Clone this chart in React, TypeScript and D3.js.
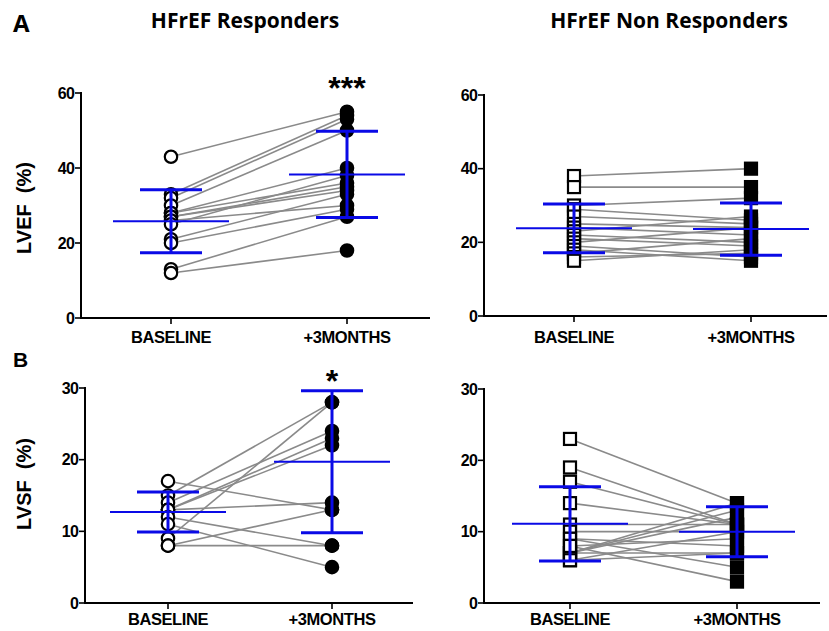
import React from 'react';
import * as d3 from 'd3';

// categories
const groups = ['BASELINE', '+3MONTHS'];

// LVEF responders (paired baseline -> +3 months)
const lvefRespBase = [43, 33, 32, 30, 28, 28, 27, 27, 26, 25, 21, 20, 13, 12];
const lvefRespM3 = [55, 54, 53, 50, 40, 36, 35, 34, 30, 38, 33, 29, 27, 18];
const lvefRespMean = [25.8, 38.3];
const lvefRespSd = [8.4, 11.5];

// LVEF non responders
const lvefNonBase = [38, 35, 30, 29, 27, 25, 24, 23, 22, 21, 20, 19, 18, 17, 16, 15];
const lvefNonM3 = [40, 35, 32, 26, 25, 24, 22, 27, 20, 19, 24, 16, 15, 21, 17, 18];
const lvefNonMean = [23.8, 23.6];
const lvefNonSd = [6.6, 7.1];

// LVSF responders
const lvsfRespBase = [17, 15, 14, 13, 13, 9, 13, 12, 11, 8, 8];
const lvsfRespM3 = [13, 28, 24, 23, 22, 28, 14, 8, 5, 13, 8];
const lvsfRespMean = [12.7, 19.7];
const lvsfRespSd = [2.8, 9.9];

// LVSF non responders
const lvsfNonBase = [23, 19, 17, 14, 11, 10, 9, 9, 8, 7, 7, 7, 6, 7, 8, 6];
const lvsfNonM3 = [14, 11, 11, 11, 11, 10, 5, 8, 3, 13, 14, 12, 10, 7, 9, 7];
const lvsfNonMean = [11.1, 10.0];
const lvsfNonSd = [5.2, 3.5];

const lvefTicks = [0, 20, 40, 60];
const lvsfTicks = [0, 10, 20, 30];

const BLUE = '#0a0ae6';
const GRAY = '#8a8a8a';
const AXIS_FONT = 'Liberation Sans, Arial, sans-serif';

type PanelProps = {
    x0: number; yTop: number; yBottom: number; xEnd: number;
    xs: [number, number];
    max: number; ticks: number[];
    base: number[]; m3: number[];
    mean: number[]; sd: number[];
    marker: 'circle' | 'square';
    labelOffset: number;
    star?: string; starY?: number;
};

const Marker = ({ shape, cx, cy, filled }: { shape: string; cx: number; cy: number; filled: boolean }) => {
    const fill = filled ? '#000' : '#fff';
    if (shape === 'circle') {
        return <circle cx={cx} cy={cy} r={6.2} fill={fill} stroke="#000" strokeWidth={2.2} />;
    }
    return <rect x={cx - 6} y={cy - 6} width={12} height={12} fill={fill} stroke="#000" strokeWidth={2.2} />;
};

const Panel = (p: PanelProps) => {
    const y = d3.scaleLinear().domain([0, p.max]).range([p.yBottom, p.yTop]);
    const x = d3.scalePoint().domain(groups).range(p.xs).padding(0);
    const line = d3.line<[string, number]>().x(d => x(d[0]) as number).y(d => y(d[1]));
    const meanHalf = 58;
    const capHalf = 31;

    return (
        <g>
            {/* paired lines */}
            {p.base.map((b, i) => (
                <path key={'l' + i} d={line([[groups[0], b], [groups[1], p.m3[i]]]) as string}
                    fill="none" stroke={GRAY} strokeWidth={1.6} />
            ))}
            {/* markers */}
            {p.base.map((b, i) => (
                <Marker key={'b' + i} shape={p.marker} cx={x(groups[0]) as number} cy={y(b)} filled={false} />
            ))}
            {p.m3.map((v, i) => (
                <Marker key={'m' + i} shape={p.marker} cx={x(groups[1]) as number} cy={y(v)} filled={true} />
            ))}
            {/* mean +/- SD */}
            {groups.map((g, i) => {
                const cx = x(g) as number;
                const hi = y(p.mean[i] + p.sd[i]);
                const lo = y(p.mean[i] - p.sd[i]);
                return (
                    <g key={'e' + g} stroke={BLUE}>
                        <line x1={cx - meanHalf} x2={cx + meanHalf} y1={y(p.mean[i])} y2={y(p.mean[i])} strokeWidth={2} />
                        <line x1={cx} x2={cx} y1={hi} y2={lo} strokeWidth={3} />
                        <line x1={cx - capHalf} x2={cx + capHalf} y1={hi} y2={hi} strokeWidth={3} />
                        <line x1={cx - capHalf} x2={cx + capHalf} y1={lo} y2={lo} strokeWidth={3} />
                    </g>
                );
            })}
            {/* axes */}
            <line x1={p.x0} x2={p.x0} y1={p.yTop - 1} y2={p.yBottom + 1} stroke="#000" strokeWidth={2} />
            <line x1={p.x0 - 1} x2={p.xEnd} y1={p.yBottom} y2={p.yBottom} stroke="#000" strokeWidth={2.2} />
            {p.ticks.map(t => (
                <g key={'t' + t}>
                    <line x1={p.x0 - 6} x2={p.x0} y1={y(t)} y2={y(t)} stroke="#000" strokeWidth={1.6} />
                    <text x={p.x0 - 7} y={y(t)} dy="0.36em" textAnchor="end" fontFamily={AXIS_FONT}
                        fontWeight="bold" fontSize={16} letterSpacing={-0.8}>{t}</text>
                </g>
            ))}
            {groups.map(g => (
                <g key={'x' + g}>
                    <line x1={x(g) as number} x2={x(g) as number} y1={p.yBottom} y2={p.yBottom + 6} stroke="#000" strokeWidth={1.6} />
                    <text x={x(g) as number} y={p.yBottom + p.labelOffset} textAnchor="middle" fontFamily={AXIS_FONT}
                        fontWeight="bold" fontSize={16.5} letterSpacing={-0.4}>{g}</text>
                </g>
            ))}
            {p.star && (
                <text x={p.xs[1]} y={p.starY} textAnchor="middle" fontFamily={AXIS_FONT}
                    fontWeight="bold" fontSize={32}>{p.star}</text>
            )}
        </g>
    );
};

export default function App() {
    const titleFont = '"Open Sans", sans-serif';
    return (
        <svg width={829} height={631} style={{ position: 'absolute', left: 0, top: 0, background: '#fff' }}>
            <rect width={829} height={631} fill="#fff" />
            <text x={13} y={32} fontFamily={titleFont} fontWeight={700} fontSize={24}>A</text>
            <text x={245} y={28} textAnchor="middle" fontFamily={titleFont} fontWeight={700} fontSize={21}>HFrEF Responders</text>
            <text x={669} y={28} textAnchor="middle" fontFamily={titleFont} fontWeight={700} fontSize={21}>HFrEF Non Responders</text>
            <text x={13} y={367} fontFamily={AXIS_FONT} fontWeight="bold" fontSize={21}>B</text>

            <text transform="translate(31,208) rotate(-90)" textAnchor="middle" fontFamily={AXIS_FONT}
                fontWeight="bold" fontSize={20} xmlSpace="preserve">LVEF  (%)</text>
            <text transform="translate(31,484) rotate(-90)" textAnchor="middle" fontFamily={AXIS_FONT}
                fontWeight="bold" fontSize={20} xmlSpace="preserve">LVSF  (%)</text>

            <Panel x0={81} yTop={93} yBottom={318} xEnd={430} xs={[171, 347]} max={60} ticks={lvefTicks}
                base={lvefRespBase} m3={lvefRespM3} mean={lvefRespMean} sd={lvefRespSd}
                marker="circle" labelOffset={25} star="***" starY={99} />
            <Panel x0={484} yTop={95} yBottom={316} xEnd={827} xs={[574, 751]} max={60} ticks={lvefTicks}
                base={lvefNonBase} m3={lvefNonM3} mean={lvefNonMean} sd={lvefNonSd}
                marker="square" labelOffset={27} />
            <Panel x0={85} yTop={388} yBottom={603} xEnd={413} xs={[168, 332]} max={30} ticks={lvsfTicks}
                base={lvsfRespBase} m3={lvsfRespM3} mean={lvsfRespMean} sd={lvsfRespSd}
                marker="circle" labelOffset={22} star="*" starY={392} />
            <Panel x0={484} yTop={389} yBottom={603} xEnd={820} xs={[570, 737]} max={30} ticks={lvsfTicks}
                base={lvsfNonBase} m3={lvsfNonM3} mean={lvsfNonMean} sd={lvsfNonSd}
                marker="square" labelOffset={22} />
        </svg>
    );
}
